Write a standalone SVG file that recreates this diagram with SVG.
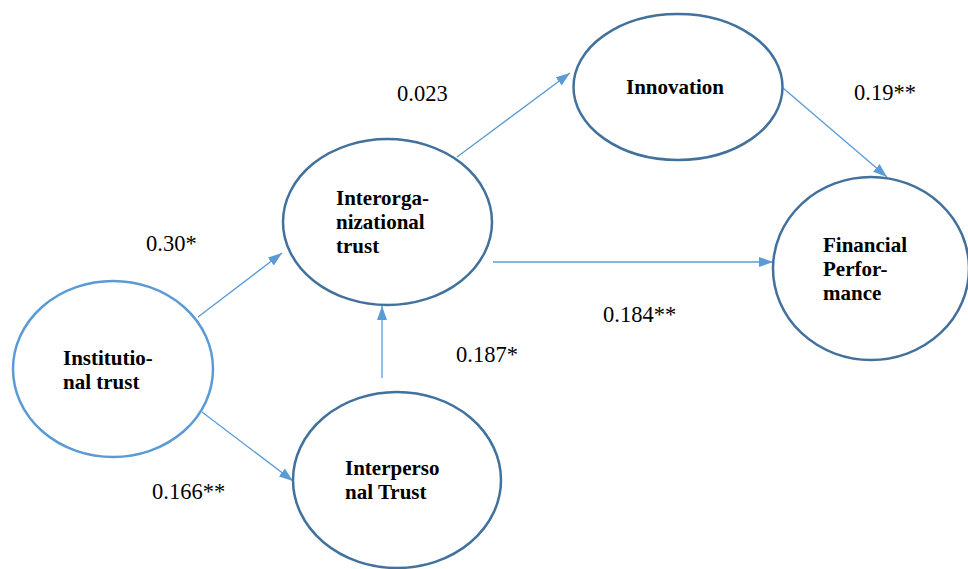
<svg xmlns="http://www.w3.org/2000/svg" width="968" height="569" viewBox="0 0 968 569">
<defs>
<style>
.node{fill:#ffffff;stroke:#41719c;stroke-width:2.5}
.light{stroke:#5b9bd5}
.nt{font-weight:bold;font-size:21px;fill:#000}
.lbl{font-size:22.5px;fill:#000}
.edge{stroke:#5b9bd5;stroke-width:1.3;fill:none;marker-end:url(#ah)}
</style>
<marker id="ah" viewBox="0 0 14 10" refX="14" refY="5" markerWidth="14" markerHeight="10" markerUnits="userSpaceOnUse" orient="auto">
<path d="M0,0 L14,5 L0,10 z" fill="#5b9bd5"/>
</marker>
</defs>
<rect width="968" height="569" fill="#ffffff"/>
<g id="connectors">
<line class="edge" x1="198" y1="317" x2="282" y2="253"/>
<line class="edge" x1="202" y1="412" x2="293" y2="481"/>
<line class="edge" x1="382" y1="378" x2="382" y2="306"/>
<line class="edge" x1="457" y1="157" x2="570" y2="73"/>
<line class="edge" x1="493" y1="262" x2="773" y2="262"/>
<line class="edge" x1="783" y1="88" x2="887" y2="177"/>
</g>
<g font-family="Liberation Serif, Times New Roman, DejaVu Serif, serif">
<g id="institutional">
<ellipse class="node light" cx="113" cy="369" rx="100" ry="88"/>
<text class="nt" x="63" y="365">Institutio-</text>
<text class="nt" x="63" y="389">nal trust</text>
</g>
<g id="interorganizational">
<ellipse class="node" cx="387.5" cy="222" rx="104.5" ry="83"/>
<text class="nt" x="336" y="205">Interorga-</text>
<text class="nt" x="336" y="229">nizational</text>
<text class="nt" x="336" y="253">trust</text>
</g>
<g id="innovation">
<ellipse class="node" cx="678" cy="87" rx="104.5" ry="73"/>
<text class="nt" x="626" y="94">Innovation</text>
</g>
<g id="financial">
<ellipse class="node" cx="871" cy="268.5" rx="98" ry="91.5"/>
<text class="nt" x="823" y="252">Financial</text>
<text class="nt" x="823" y="276">Perfor-</text>
<text class="nt" x="823" y="300">mance</text>
</g>
<g id="interpersonal">
<ellipse class="node" cx="397" cy="480" rx="104" ry="88"/>
<text class="nt" x="345" y="475">Interperso</text>
<text class="nt" x="345" y="499">nal Trust</text>
</g>
<g id="labels">
<text class="lbl" x="146" y="251">0.30*</text>
<text class="lbl" x="397" y="101">0.023</text>
<text class="lbl" x="854" y="100">0.19**</text>
<text class="lbl" x="603" y="322">0.184**</text>
<text class="lbl" x="456" y="362">0.187*</text>
<text class="lbl" x="152" y="499">0.166**</text>
</g>
</g>
</svg>
